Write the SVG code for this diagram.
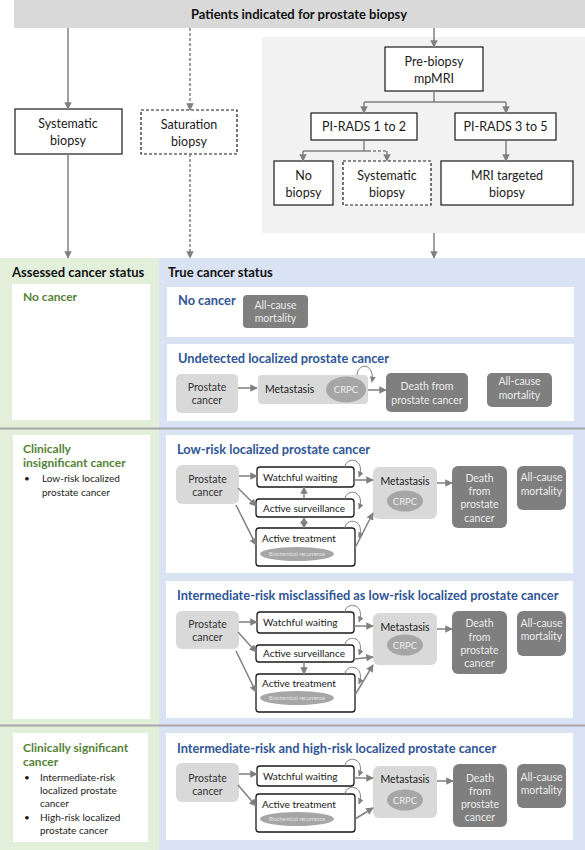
<svg xmlns="http://www.w3.org/2000/svg" width="585" height="850" viewBox="0 0 585 850">
<style>
text{font-family:Lato,"Noto Sans","Liberation Sans",sans-serif}
.bx{fill:#fff;stroke:#1a1a1a;stroke-width:1.2}
.dash{stroke-dasharray:3,2}
.t{font-size:12.5px;fill:#1a1a1a;text-anchor:middle}
.hd{font-size:13px;font-weight:bold;fill:#111}
.gt{font-size:12px;font-weight:bold;fill:#548235}
.bt{font-size:12.8px;font-weight:bold;fill:#2f5597}
.sm{font-size:10px;fill:#1a1a1a}
.lt{fill:#d9d9d9}
.dk{fill:#7f7f7f}
.dt{font-size:10.5px;fill:#ececec;text-anchor:middle}
.lc{font-size:10.5px;fill:#333;text-anchor:middle}
.ls{font-size:10.5px;fill:#1a1a1a}
.el{fill:#a6a6a6}
.et{font-size:9.5px;fill:#eee;text-anchor:middle}
.br{font-size:5.5px;fill:#e4e4e4;text-anchor:middle}
.sb{fill:#fff;stroke:#1a1a1a;stroke-width:1.3}
.bl{font-size:10px;fill:#1a1a1a}
.c{fill:none;stroke:#808080;stroke-width:1.5;marker-end:url(#ah)}
.cd{fill:none;stroke:#808080;stroke-width:1.5;stroke-dasharray:3,2;marker-end:url(#ah)}
.cn{fill:none;stroke:#808080;stroke-width:1.5}
.cnd{fill:none;stroke:#808080;stroke-width:1.5;stroke-dasharray:3,2}
.lp{fill:none;stroke:#808080;stroke-width:1;marker-end:url(#ahs)}
</style>
<defs>
<marker id="ah" viewBox="0 0 10 10" refX="9" refY="5" markerWidth="5" markerHeight="5" orient="auto" markerUnits="strokeWidth">
<path d="M0,0 L10,5 L0,10 z" fill="#808080"/>
</marker>
<marker id="ahb" viewBox="0 0 10 10" refX="1" refY="5" markerWidth="5" markerHeight="5" orient="auto" markerUnits="strokeWidth">
<path d="M10,0 L0,5 L10,10 z" fill="#808080"/>
</marker>
<marker id="ahs" viewBox="0 0 10 10" refX="9" refY="5" markerWidth="6" markerHeight="6" orient="auto" markerUnits="strokeWidth">
<path d="M0,0 L10,5 L0,10 z" fill="#808080"/>
</marker>
</defs>

<!-- backgrounds -->
<g id="backgrounds">
<rect x="14" y="0" width="571" height="28" fill="#d9d9d9"/>
<rect x="262" y="37" width="323" height="196" fill="#f2f2f2"/>
<rect x="0" y="258" width="159" height="592" fill="#e2efda"/>
<rect x="159" y="258" width="426" height="592" fill="#dae3f3"/>
<line x1="0" y1="428.5" x2="585" y2="428.5" stroke="#a6a6a6" stroke-width="2"/>
<line x1="0" y1="725.5" x2="585" y2="725.5" stroke="#a6a6a6" stroke-width="2"/>
<text x="299" y="19" class="hd" text-anchor="middle">Patients indicated for prostate biopsy</text>
<text x="12" y="277" class="hd">Assessed cancer status</text>
<text x="168" y="277" class="hd">True cancer status</text>
</g>

<!-- top flow nodes -->
<g id="systematic-biopsy"><rect class="bx" x="15" y="109" width="107" height="45"/><text class="t" x="68" y="128">Systematic</text><text class="t" x="68" y="145">biopsy</text></g>
<g id="saturation-biopsy"><rect class="bx dash" x="141" y="110" width="96" height="44"/><text class="t" x="189" y="129">Saturation</text><text class="t" x="189" y="146">biopsy</text></g>
<g id="pre-biopsy-mpmri"><rect class="bx" x="385" y="47" width="98" height="44"/><text class="t" x="434" y="66">Pre-biopsy</text><text class="t" x="434" y="83">mpMRI</text></g>
<g id="pirads-1-2"><rect class="bx" x="311" y="113" width="106" height="27"/><text class="t" x="364" y="131">PI-RADS 1 to 2</text></g>
<g id="pirads-3-5"><rect class="bx" x="455" y="113" width="101" height="27"/><text class="t" x="505.5" y="131">PI-RADS 3 to 5</text></g>
<g id="no-biopsy"><rect class="bx" x="274" y="161" width="59" height="44"/><text class="t" x="303.5" y="180">No</text><text class="t" x="303.5" y="197">biopsy</text></g>
<g id="systematic-biopsy-2"><rect class="bx dash" x="343" y="161" width="88" height="44"/><text class="t" x="387" y="180">Systematic</text><text class="t" x="387" y="197">biopsy</text></g>
<g id="mri-targeted-biopsy"><rect class="bx" x="441" y="161" width="132" height="44"/><text class="t" x="507" y="180">MRI targeted</text><text class="t" x="507" y="197">biopsy</text></g>

<!-- left panel -->
<g id="assessed-no-cancer"><rect x="12" y="284" width="138" height="136" fill="#fff"/><text class="gt" x="23" y="301">No cancer</text></g>
<g id="assessed-insignificant"><rect x="13" y="435" width="137" height="284" fill="#fff"/>
<text class="gt" x="23" y="453">Clinically</text><text class="gt" x="23" y="467">insignificant cancer</text>
<text class="bl" x="24" y="482">•</text><text class="bl" x="42" y="482">Low-risk localized</text><text class="bl" x="42" y="496">prostate cancer</text></g>
<g id="assessed-significant"><rect x="13" y="733" width="135" height="109" fill="#fff"/>
<text class="gt" x="23" y="752">Clinically significant</text><text class="gt" x="23" y="766">cancer</text>
<text class="bl" x="24" y="781">•</text><text class="bl" x="40" y="781">Intermediate-risk</text><text class="bl" x="40" y="794">localized prostate</text><text class="bl" x="40" y="807">cancer</text>
<text class="bl" x="24" y="821">•</text><text class="bl" x="40" y="821">High-risk localized</text><text class="bl" x="40" y="834">prostate cancer</text></g>

<!-- right panel: no cancer -->
<g id="true-no-cancer"><rect x="167" y="287" width="407" height="50" fill="#fff"/>
<text class="bt" x="178" y="305">No cancer</text>
<rect class="dk" x="243" y="295" width="65" height="33" rx="4"/><text class="dt" x="275.5" y="309">All-cause</text><text class="dt" x="275.5" y="322">mortality</text></g>

<!-- undetected -->
<g id="true-undetected"><rect x="167" y="344" width="407" height="77" fill="#fff"/>
<text class="bt" x="178" y="363">Undetected localized prostate cancer</text>
<rect class="lt" x="176" y="374" width="62" height="39" rx="5"/><text class="lc" x="207" y="391">Prostate</text><text class="lc" x="207" y="404">cancer</text>
<rect class="lt" x="258" y="375" width="110" height="29" rx="4"/><text class="ls" x="265" y="393">Metastasis</text>
<ellipse class="el" cx="346" cy="389.5" rx="20" ry="13"/><text class="et" x="346" y="393">CRPC</text>
<rect class="dk" x="386" y="373" width="82" height="39" rx="5"/><text class="dt" x="427" y="390">Death from</text><text class="dt" x="427" y="404">prostate cancer</text>
<rect class="dk" x="487" y="373" width="65" height="34" rx="5"/><text class="dt" x="519.5" y="385">All-cause</text><text class="dt" x="519.5" y="399">mortality</text></g>

<!-- low-risk -->
<g id="true-low-risk"><rect x="166" y="435" width="407" height="138" fill="#fff"/>
<text class="bt" x="177" y="454">Low-risk localized prostate cancer</text>
<rect class="lt" x="176" y="465" width="63" height="39" rx="6"/><text class="lc" x="207.5" y="483">Prostate</text><text class="lc" x="207.5" y="496">cancer</text>
<rect class="sb" x="257" y="467" width="97" height="20" rx="3"/><text class="sm" x="263" y="481">Watchful waiting</text>
<rect class="sb" x="256" y="499" width="98" height="18" rx="3"/><text class="sm" x="263" y="512">Active surveillance</text>
<rect class="sb" x="256" y="528" width="99" height="38" rx="3"/><text class="sm" x="262" y="542">Active treatment</text>
<ellipse class="el" cx="297" cy="554" rx="37" ry="7"/><text class="br" x="297" y="556">Biochemical recurrence</text>
<rect class="lt" x="373" y="467" width="64" height="52" rx="6"/><text class="lc" x="405" y="485" style="fill:#1a1a1a">Metastasis</text>
<ellipse class="el" cx="405" cy="501" rx="18" ry="10.5"/><text class="et" x="405" y="504.5">CRPC</text>
<rect class="dk" x="452" y="466" width="55" height="62" rx="6"/><text class="dt" x="479.5" y="482">Death</text><text class="dt" x="479.5" y="495">from</text><text class="dt" x="479.5" y="508">prostate</text><text class="dt" x="479.5" y="522">cancer</text>
<rect class="dk" x="517" y="466" width="49" height="44" rx="6"/><text class="dt" x="541.5" y="481">All-cause</text><text class="dt" x="541.5" y="495">mortality</text></g>

<!-- misclassified -->
<g id="true-misclassified"><rect x="166" y="581" width="407" height="137" fill="#fff"/>
<text class="bt" x="177" y="600">Intermediate-risk misclassified as low-risk localized prostate cancer</text>
<rect class="lt" x="176" y="611" width="63" height="38" rx="6"/><text class="lc" x="207.5" y="628">Prostate</text><text class="lc" x="207.5" y="641">cancer</text>
<rect class="sb" x="257" y="612" width="97" height="21" rx="3"/><text class="sm" x="263" y="626">Watchful waiting</text>
<rect class="sb" x="256" y="645" width="98" height="17" rx="3"/><text class="sm" x="263" y="657">Active surveillance</text>
<rect class="sb" x="256" y="674" width="99" height="38" rx="3"/><text class="sm" x="262" y="687">Active treatment</text>
<ellipse class="el" cx="297" cy="698" rx="37" ry="7"/><text class="br" x="297" y="700">Biochemical recurrence</text>
<rect class="lt" x="373" y="613" width="64" height="52" rx="6"/><text class="lc" x="405" y="631" style="fill:#1a1a1a">Metastasis</text>
<ellipse class="el" cx="405" cy="645" rx="18" ry="10.5"/><text class="et" x="405" y="648.5">CRPC</text>
<rect class="dk" x="452" y="611" width="55" height="63" rx="6"/><text class="dt" x="479.5" y="627">Death</text><text class="dt" x="479.5" y="641">from</text><text class="dt" x="479.5" y="654">prostate</text><text class="dt" x="479.5" y="667">cancer</text>
<rect class="dk" x="517" y="611" width="49" height="45" rx="6"/><text class="dt" x="541.5" y="627">All-cause</text><text class="dt" x="541.5" y="640">mortality</text></g>

<!-- intermediate/high -->
<g id="true-intermediate-high"><rect x="166" y="733" width="407" height="107" fill="#fff"/>
<text class="bt" x="177" y="753">Intermediate-risk and high-risk localized prostate cancer</text>
<rect class="lt" x="176" y="763" width="63" height="39" rx="6"/><text class="lc" x="207.5" y="782">Prostate</text><text class="lc" x="207.5" y="795">cancer</text>
<rect class="sb" x="257" y="766" width="97" height="20" rx="3"/><text class="sm" x="263" y="780">Watchful waiting</text>
<rect class="sb" x="256" y="794" width="99" height="38" rx="3"/><text class="sm" x="262" y="808">Active treatment</text>
<ellipse class="el" cx="297" cy="819" rx="37" ry="7"/><text class="br" x="297" y="821">Biochemical recurrence</text>
<rect class="lt" x="373" y="766" width="64" height="52" rx="6"/><text class="lc" x="405" y="783" style="fill:#1a1a1a">Metastasis</text>
<ellipse class="el" cx="405" cy="800" rx="18" ry="10.5"/><text class="et" x="405" y="803.5">CRPC</text>
<rect class="dk" x="453" y="764" width="54" height="63" rx="6"/><text class="dt" x="480" y="782">Death</text><text class="dt" x="480" y="795">from</text><text class="dt" x="480" y="808">prostate</text><text class="dt" x="480" y="821">cancer</text>
<rect class="dk" x="517" y="764" width="49" height="44" rx="6"/><text class="dt" x="541.5" y="781">All-cause</text><text class="dt" x="541.5" y="794">mortality</text></g>

<!-- connectors -->
<g id="connectors">
<line class="c" x1="68" y1="28" x2="68" y2="109"/>
<line class="cd" x1="190" y1="28" x2="190" y2="110"/>
<line class="c" x1="434" y1="28" x2="434" y2="47"/>
<polyline class="cn" points="434,91 434,102"/>
<line class="cn" x1="364" y1="102" x2="506" y2="102"/>
<line class="c" x1="364" y1="102" x2="364" y2="113"/>
<line class="c" x1="506" y1="102" x2="506" y2="113"/>
<line class="cn" x1="364" y1="140" x2="364" y2="151"/>
<line class="cn" x1="303" y1="151" x2="368" y2="151"/>
<line class="cnd" x1="368" y1="151" x2="387" y2="151"/>
<line class="c" x1="303" y1="151" x2="303" y2="161"/>
<line class="cd" x1="387" y1="151" x2="387" y2="161"/>
<line class="c" x1="506" y1="140" x2="506" y2="161"/>
<line class="c" x1="68" y1="154" x2="68" y2="258"/>
<line class="cd" x1="190" y1="154" x2="190" y2="258"/>
<line class="c" x1="434" y1="233" x2="434" y2="258"/>

<!-- undetected -->
<line class="c" x1="238" y1="388" x2="257" y2="388"/>
<path class="lp" d="M357,375 C358,362 375,363 372,382"/>
<line class="c" x1="368" y1="390" x2="386" y2="390"/>

<!-- low-risk -->
<line class="c" x1="239" y1="476" x2="257" y2="476"/>
<line class="c" x1="238" y1="488" x2="256" y2="506"/>
<line class="c" x1="236" y1="505" x2="256" y2="545"/>
<line class="c" x1="304" y1="499" x2="304" y2="487"/>
<line class="c" x1="304" y1="517.5" x2="304" y2="528" style="marker-start:url(#ahb)"/>
<line class="c" x1="354" y1="480" x2="373" y2="480"/>
<line class="c" x1="355" y1="548" x2="373" y2="513"/>
<line class="c" x1="437" y1="483" x2="452" y2="483"/>
<path class="lp" d="M345,467 C346,456 366,458 359,477"/>
<path class="lp" d="M345,499 C346,488 366,490 359,509"/>
<path class="lp" d="M345,528 C346,517 366,519 359,538"/>

<!-- misclassified -->
<line class="c" x1="239" y1="622" x2="257" y2="622"/>
<line class="c" x1="238" y1="632" x2="256" y2="652"/>
<line class="c" x1="236" y1="651" x2="256" y2="692"/>
<line class="c" x1="304" y1="662" x2="304" y2="674"/>
<line class="c" x1="354" y1="626" x2="373" y2="626"/>
<line class="c" x1="354" y1="659" x2="373" y2="657"/>
<line class="c" x1="355" y1="695" x2="373" y2="665"/>
<line class="c" x1="437" y1="629" x2="452" y2="629"/>
<path class="lp" d="M345,612 C346,601 366,603 359,622"/>
<path class="lp" d="M345,645 C346,634 366,636 359,655"/>
<path class="lp" d="M345,674 C346,663 366,665 359,684"/>

<!-- intermediate/high -->
<line class="c" x1="239" y1="774" x2="257" y2="774"/>
<line class="c" x1="238" y1="785" x2="256" y2="806"/>
<line class="c" x1="354" y1="778" x2="373" y2="778"/>
<line class="c" x1="355" y1="819" x2="373" y2="808"/>
<line class="c" x1="437" y1="781" x2="453" y2="781"/>
<path class="lp" d="M345,766 C346,755 366,757 359,776"/>
<path class="lp" d="M345,794 C346,783 366,785 359,804"/>
</g>
</svg>
